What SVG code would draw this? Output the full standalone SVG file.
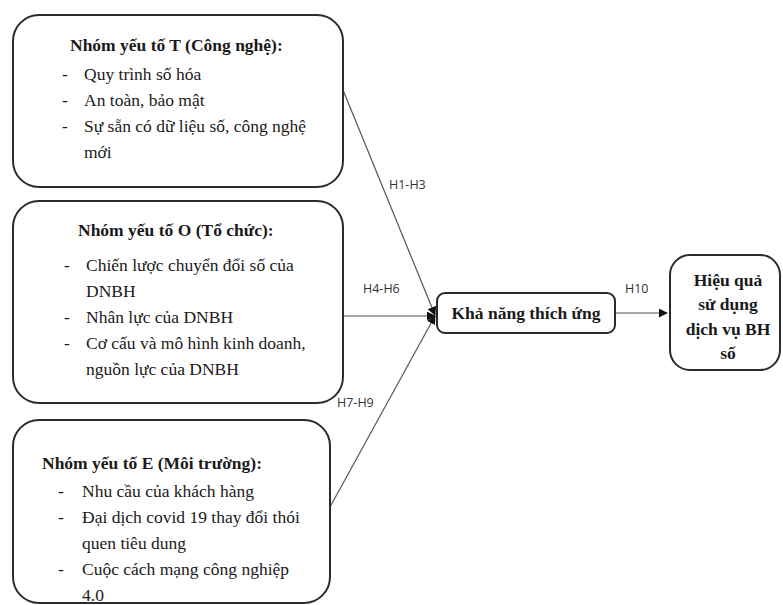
<svg xmlns="http://www.w3.org/2000/svg" width="783" height="605" viewBox="0 0 783 605">
<style>
.box{fill:#fff;stroke:#2b2b2b;stroke-width:2}
.t{font-family:"Liberation Serif","Times New Roman",serif;font-size:17.5px;fill:#1a1a1a}
.b{font-weight:bold}
.lbl{font-family:"Open Sans","Liberation Sans",sans-serif;font-size:12.5px;fill:#333}
.ln{stroke:#555;stroke-width:1.2;fill:none}
</style>
<defs>
<marker id="ah" viewBox="0 0 10 10" refX="9" refY="5" markerWidth="9" markerHeight="9" markerUnits="userSpaceOnUse" orient="auto">
<path d="M0,0 L10,5 L0,10 z" fill="#111"/>
</marker>
</defs>
<rect width="783" height="605" fill="#fff"/>
<g id="connectors">
<line class="ln" x1="343" y1="90" x2="435" y2="315" marker-end="url(#ah)"/>
<line class="ln" x1="343" y1="316" x2="435" y2="316" marker-end="url(#ah)"/>
<line class="ln" x1="330" y1="507" x2="435" y2="316" marker-end="url(#ah)"/>
<line class="ln" x1="615" y1="313" x2="667" y2="313" marker-end="url(#ah)"/>
<text class="lbl" x="389" y="189">H1-H3</text>
<text class="lbl" x="363" y="293">H4-H6</text>
<text class="lbl" x="337" y="407">H7-H9</text>
<text class="lbl" x="625" y="293">H10</text>
</g>
<g id="nodeT">
<rect class="box" x="13" y="15" width="330" height="172" rx="26"/>
<text class="t b" x="70" y="51">Nhóm yếu tố T (Công nghệ):</text>
<text class="t" x="62" y="80">-</text><text class="t" x="84" y="80">Quy trình số hóa</text>
<text class="t" x="62" y="106">-</text><text class="t" x="84" y="106">An toàn, bảo mật</text>
<text class="t" x="62" y="132">-</text><text class="t" x="84" y="132">Sự sẵn có dữ liệu số, công nghệ</text>
<text class="t" x="84" y="158">mới</text>
</g>
<g id="nodeO">
<rect class="box" x="13" y="201" width="330" height="202" rx="26"/>
<text class="t b" x="78" y="236">Nhóm yếu tố O (Tổ chức):</text>
<text class="t" x="64" y="271">-</text><text class="t" x="86" y="271">Chiến lược chuyển đổi số của</text>
<text class="t" x="86" y="297">DNBH</text>
<text class="t" x="64" y="323">-</text><text class="t" x="86" y="323">Nhân lực của DNBH</text>
<text class="t" x="64" y="349">-</text><text class="t" x="86" y="349">Cơ cấu và mô hình kinh doanh,</text>
<text class="t" x="86" y="375">nguồn lực của DNBH</text>
</g>
<g id="nodeE">
<rect class="box" x="13" y="420" width="317" height="183" rx="26"/>
<text class="t b" x="42" y="469">Nhóm yếu tố E (Môi trường):</text>
<text class="t" x="58" y="497">-</text><text class="t" x="82" y="497">Nhu cầu của khách hàng</text>
<text class="t" x="58" y="523">-</text><text class="t" x="82" y="523">Đại dịch covid 19 thay đổi thói</text>
<text class="t" x="82" y="549">quen tiêu dung</text>
<text class="t" x="58" y="575">-</text><text class="t" x="82" y="575">Cuộc cách mạng công nghiệp</text>
<text class="t" x="82" y="601">4.0</text>
</g>
<g id="nodeK">
<rect class="box" x="437" y="293" width="178" height="40" rx="8"/>
<text class="t b" x="526" y="319" text-anchor="middle">Khả năng thích ứng</text>
</g>
<g id="nodeH">
<rect class="box" x="670" y="255" width="110" height="115" rx="20"/>
<text class="t b" x="728" y="286" text-anchor="middle">Hiệu quả</text>
<text class="t b" x="728" y="310" text-anchor="middle">sử dụng</text>
<text class="t b" x="728" y="335" text-anchor="middle">dịch vụ BH</text>
<text class="t b" x="728" y="359" text-anchor="middle">số</text>
</g>
</svg>
